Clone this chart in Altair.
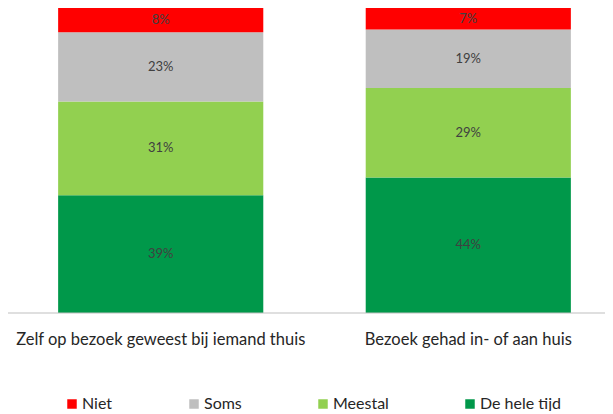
import altair as alt
import pandas as pd

categories = ["Zelf op bezoek geweest bij iemand thuis", "Bezoek gehad in- of aan huis"]
series = ["De hele tijd", "Meestal", "Soms", "Niet"]
values_zelf = [39, 31, 23, 8]
values_bezoek = [44, 29, 19, 7]
legend_order = ["Niet", "Soms", "Meestal", "De hele tijd"]
colors = ["#FF0000", "#BFBFBF", "#92D050", "#00984A"]

rows = []
for cat, vals in zip(categories, [values_zelf, values_bezoek]):
    for i, (s, v) in enumerate(zip(series, vals)):
        rows.append({"cat": cat, "serie": s, "value": v, "ord": i, "label": f"{v}%"})
df = pd.DataFrame(rows)

FONT = "Lato"
W, H = 597, 305

base = alt.Chart(df).transform_stack(
    stack="value", groupby=["cat"], as_=["y0", "y1"], offset="normalize",
    sort=[alt.SortField("ord", order="ascending")]
).transform_calculate(mid="(datum.y0 + datum.y1) / 2")

xenc = alt.X("cat:N", sort=categories, title=None,
             scale=alt.Scale(range=[0, 613], paddingInner=0.333, paddingOuter=0.163),
             axis=alt.Axis(labelAngle=0, labelFontSize=16.5, labelColor="#262626",
                           labelFont=FONT, ticks=False, domain=False,
                           labelPadding=18, labelLimit=400))

bars = base.mark_bar().encode(
    x=xenc,
    y=alt.Y("y0:Q", scale=alt.Scale(domain=[0, 1]), axis=None),
    y2="y1:Q",
    color=alt.Color("serie:N", scale=alt.Scale(domain=legend_order, range=colors),
                    legend=alt.Legend(title=None, orient="none", legendX=56, legendY=388,
                                      direction="horizontal", symbolType="square",
                                      symbolSize=90, symbolStrokeWidth=0, labelOffset=2,
                                      labelFontSize=16, labelFont=FONT, labelColor="#262626",
                                      columnPadding=73, padding=0, symbolOffset=0)),
)

text = base.mark_text(fontSize=13, font=FONT, color="#404040").encode(
    x=alt.X("cat:N", sort=categories),
    y=alt.Y("mid:Q"),
    text="label:N",
)

axis_line = alt.Chart(pd.DataFrame({"a": [0]})).mark_rule(color="#BFBFBF", strokeWidth=1).encode(
    x=alt.value(-1), x2=alt.value(W), y=alt.value(H)
)

chart = (bars + text + axis_line).properties(
    width=W, height=H,
    autosize=alt.AutoSizeParams(type="none"),
    padding={"left": 0, "top": 0, "right": 0, "bottom": 98}
).configure(background="white").configure_view(stroke=None)

chart.save("out.html", embed_options={"renderer": "svg", "actions": False})
